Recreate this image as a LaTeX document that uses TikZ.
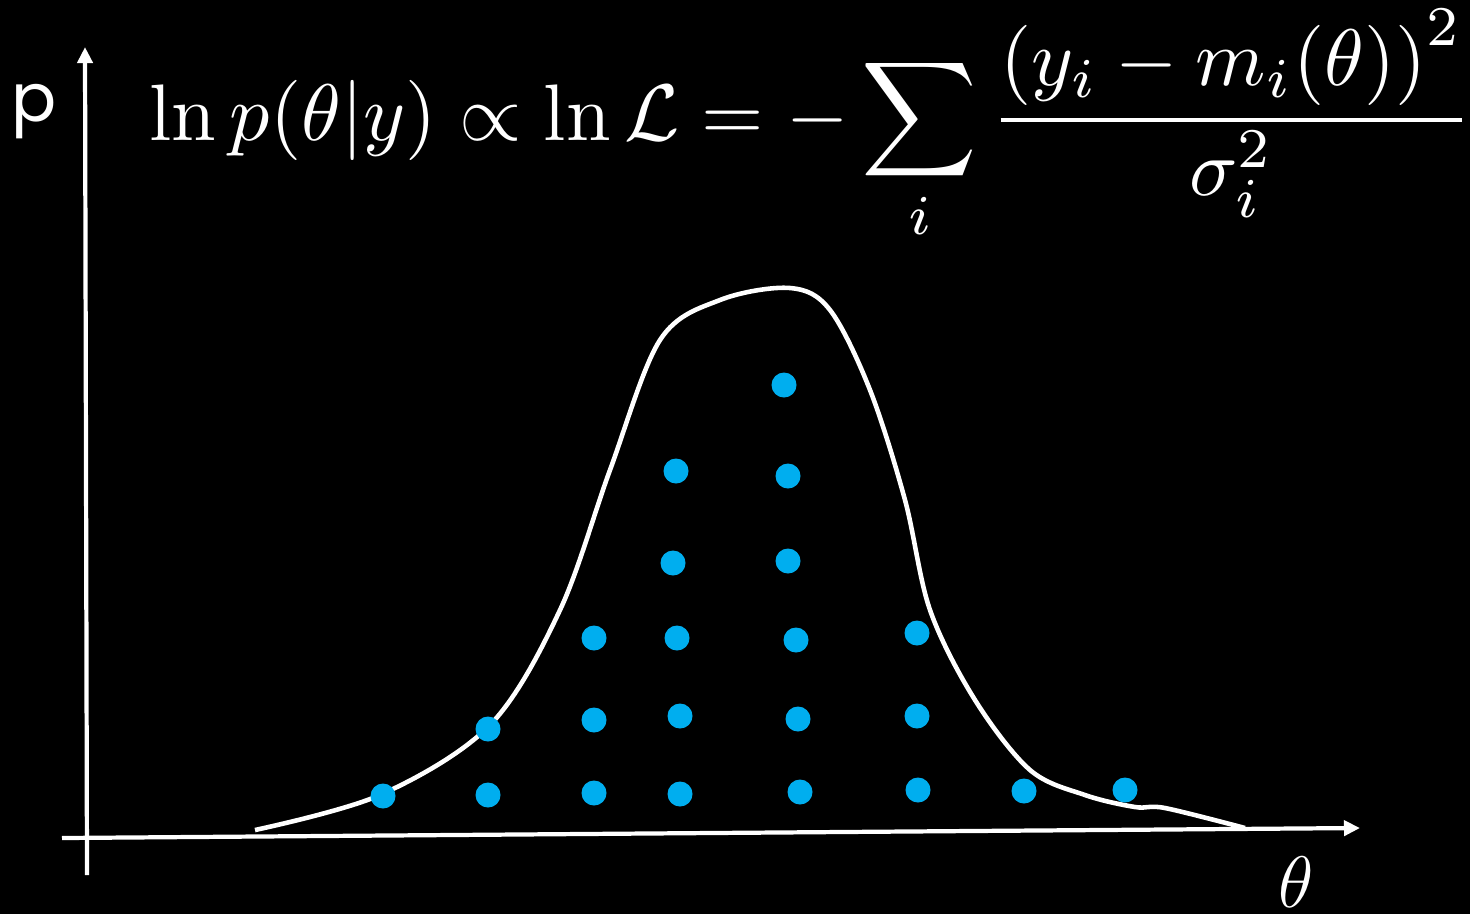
\documentclass[tikz,border=0pt]{standalone}
\usepackage{amsmath, amsfonts, amssymb}
\usepackage{fontspec}
\newfontfamily\labelfont{Poppins}
\usetikzlibrary{arrows.meta, positioning}

\begin{document}
\begin{tikzpicture}[x=0.01cm, y=-0.01cm,
    sample/.style={circle, fill=sampleblue, inner sep=0pt, minimum size=0.25cm},
    axis/.style={white, line width=1.2pt, -{Triangle[length=0.16cm, width=0.15cm]}}]
    \definecolor{sampleblue}{HTML}{00AEEF}
    \fill[black] (0,0) rectangle (1470,914);
    \useasboundingbox (0,0) rectangle (1470,914);

    % Axes
    \coordinate (ybot) at (87,875);
    \coordinate (ytop) at (85,47);
    \coordinate (xleft) at (62,838);
    \coordinate (xright) at (1360,828);
    \draw[axis] (ybot) -- (ytop);
    \draw[axis] (xleft) -- (xright);

    % Labels
    \node[white, font=\labelfont\fontsize{19}{19}\selectfont] (plabel) at (34,112) {p};
    \node[white, font=\fontsize{22}{22}\selectfont] (thlabel) at (1296,882) {$\theta$};
    \node[white, scale=2.28, inner sep=0pt, anchor=base west] (formula) at (148,140)
        {$\displaystyle \ln p(\theta|y) \propto \ln\mathcal{L} = -\sum_i \frac{\left(y_i - m_i(\theta)\right)^2}{\sigma_i^2}$};

    % Curve
    \draw[white, line width=1.3pt] plot[smooth, tension=0.55] coordinates {
        (255,830) (380,795) (490,725) (560,610) (610,470) (660,340)
        (720,300) (790,288) (830,310) (870,390) (905,500) (930,610)
        (975,700) (1030,770) (1085,795) (1135,807) (1165,808) (1245,828)};

    % Samples
    \node[sample] (s1) at (383,796) {};
    \node[sample] (s2) at (488,729) {};
    \node[sample] (s3) at (488,795) {};
    \node[sample] (s4) at (594,638) {};
    \node[sample] (s5) at (594,720) {};
    \node[sample] (s6) at (594,793) {};
    \node[sample] (s7) at (676,471) {};
    \node[sample] (s8) at (673,563) {};
    \node[sample] (s9) at (677,638) {};
    \node[sample] (s10) at (680,716) {};
    \node[sample] (s11) at (680,794) {};
    \node[sample] (s12) at (784,385) {};
    \node[sample] (s13) at (788,476) {};
    \node[sample] (s14) at (788,561) {};
    \node[sample] (s15) at (796,640) {};
    \node[sample] (s16) at (798,719) {};
    \node[sample] (s17) at (800,792) {};
    \node[sample] (s18) at (917,633) {};
    \node[sample] (s19) at (917,716) {};
    \node[sample] (s20) at (918,790) {};
    \node[sample] (s21) at (1024,791) {};
    \node[sample] (s22) at (1125,790) {};
\end{tikzpicture}
\end{document}
